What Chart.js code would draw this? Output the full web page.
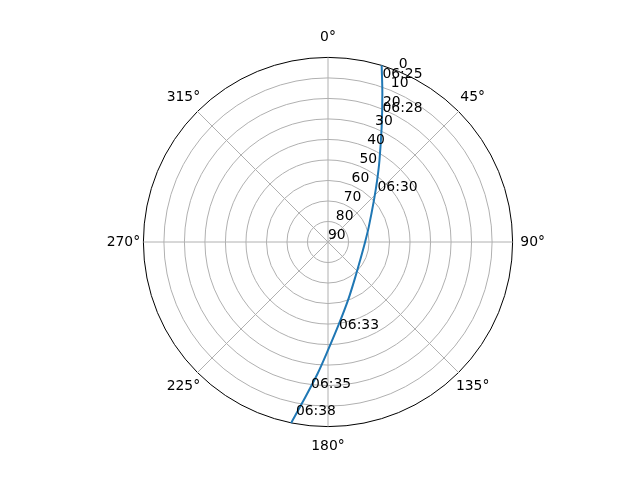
<!DOCTYPE html>
<html>
<head>
<meta charset="utf-8">
<script src="https://cdn.jsdelivr.net/npm/chart.js@4/dist/chart.umd.min.js"></script>
<style>
html,body{margin:0;padding:0;background:#ffffff;}
canvas{display:block;}
</style>
</head>
<body>
<canvas id="c" width="640" height="480"></canvas>
<script>
// ---- data ----
const angleTickLabels = ['0°', '45°', '90°', '135°', '180°', '225°', '270°', '315°'];
const radialTicks = [0, 10, 20, 30, 40, 50, 60, 70, 80, 90];
const radialLabelAngle = 22.5;

// satellite track: azimuth (deg, clockwise from north) and elevation (deg)
const trackAzimuth   = [16.9, 20.1, 25.0, 32.2, 38.5, 47.7, 69.7, 89.9, 119.5, 145.3, 161.0, 172.2, 179.6, 184.5, 189.2, 191.5];
const trackElevation = [0.0, 12.9, 28.1, 42.9, 51.5, 59.7, 68.8, 71.9, 72.0, 67.4, 60.0, 49.9, 38.1, 25.7, 10.2, 0.0];

// time annotations on the track
const timeLabels    = ['06:25', '06:28', '06:30', '06:33', '06:35', '06:38'];
const timeAzimuth   = [18.4, 22.8, 44.1, 172.8, 186.6, 190.5];
const timeElevation = [5.9, 21.4, 55.3, 47.2, 18.1, 4.1];

// ---- build the radar structures ----
const STEPS = 3600; // one spoke per 0.1 degree
const PER_TICK = STEPS / angleTickLabels.length;
const idx = a => Math.round((((a % 360) + 360) % 360) * STEPS / 360) % STEPS;
const spokeLabels = Array.from({length: STEPS}, (_, i) => (i % PER_TICK === 0 ? angleTickLabels[i / PER_TICK] : ''));
const trackValues = new Array(STEPS).fill(null);
trackAzimuth.forEach((a, k) => { trackValues[idx(a)] = trackElevation[k]; });

const FAMILY = 'DejaVu Sans';
const SIZE = 13.9;
// label placement (padding px, line height px) per angle label
const labelPad = {0: 11.7, 45: 2.6, 90: 7.7, 135: -3.7, 180: 11.7, 225: -3.7, 270: 3.3, 315: -3.7};
const labelLH  = {0: 16.7, 45: 24.6, 90: 16.7, 135: 33.5, 180: 16.7, 225: 33.5, 270: 16.7, 315: 33.5};
const degOf = i => Math.round(i * 360 / STEPS);

const skyPlugin = {
  id: 'skyPlugin',
  afterDatasetUpdate(chart, args) {
    // the track is an open path, not a closed radar polygon
    const line = args.meta.dataset;
    if (line) {
      line._loop = false;
      line._fullLoop = false;
      delete line._segments;
      delete line._path;
      line._pointsUpdated = false;
    }
  },
  afterDatasetsDraw(chart) {
    const scale = chart.scales.r;
    const ctx = chart.ctx;
    ctx.save();
    ctx.font = SIZE + 'px "' + FAMILY + '"';
    ctx.fillStyle = '#000000';
    ctx.textAlign = 'left';
    ctx.textBaseline = 'alphabetic';
    const ti = idx(radialLabelAngle);
    radialTicks.forEach(v => {
      const p = scale.getPointPositionForValue(ti, v);
      ctx.fillText(String(v), p.x, p.y - 3.2);
    });
    timeLabels.forEach((t, k) => {
      const p = scale.getPointPositionForValue(idx(timeAzimuth[k]), timeElevation[k]);
      ctx.fillText(t, p.x, p.y);
    });
    ctx.restore();
  }
};

new Chart(document.getElementById('c'), {
  type: 'radar',
  data: {
    labels: spokeLabels,
    datasets: [{
      data: trackValues,
      borderColor: '#1f77b4',
      borderWidth: 2,
      fill: false,
      spanGaps: true,
      tension: 0.35,
      pointRadius: 0,
      pointHoverRadius: 0,
      pointHitRadius: 0
    }]
  },
  options: {
    responsive: false,
    animation: false,
    events: [],
    layout: {padding: {left: 16, right: 0, top: 29, bottom: 25}},
    plugins: {legend: {display: false}, tooltip: {enabled: false}},
    scales: {
      r: {
        min: 0,
        max: 90,
        reverse: true,
        startAngle: 0,
        ticks: {display: false, stepSize: 10},
        afterBuildTicks: s => { s.ticks = radialTicks.slice().reverse().map(v => ({value: v})); },
        grid: {
          circular: true,
          color: c => (c.tick && c.tick.value === 0 ? '#000000' : '#b0b0b0'),
          lineWidth: 1
        },
        angleLines: {
          display: true,
          color: c => (c.index % PER_TICK === 0 ? '#b0b0b0' : 'rgba(0,0,0,0)'),
          lineWidth: c => (c.index % PER_TICK === 0 ? 1 : 0)
        },
        pointLabels: {
          display: true,
          color: '#000000',
          font: c => {
            const d = degOf(c.index);
            const lh = (c.index % PER_TICK === 0 && labelLH[d] !== undefined) ? labelLH[d] : SIZE * 1.2;
            return {family: FAMILY, size: SIZE, lineHeight: lh / SIZE};
          },
          padding: c => {
            const d = degOf(c.index);
            return (c.index % PER_TICK === 0 && labelPad[d] !== undefined) ? labelPad[d] : 0;
          }
        }
      }
    }
  },
  plugins: [skyPlugin]
});
</script>
</body>
</html>
